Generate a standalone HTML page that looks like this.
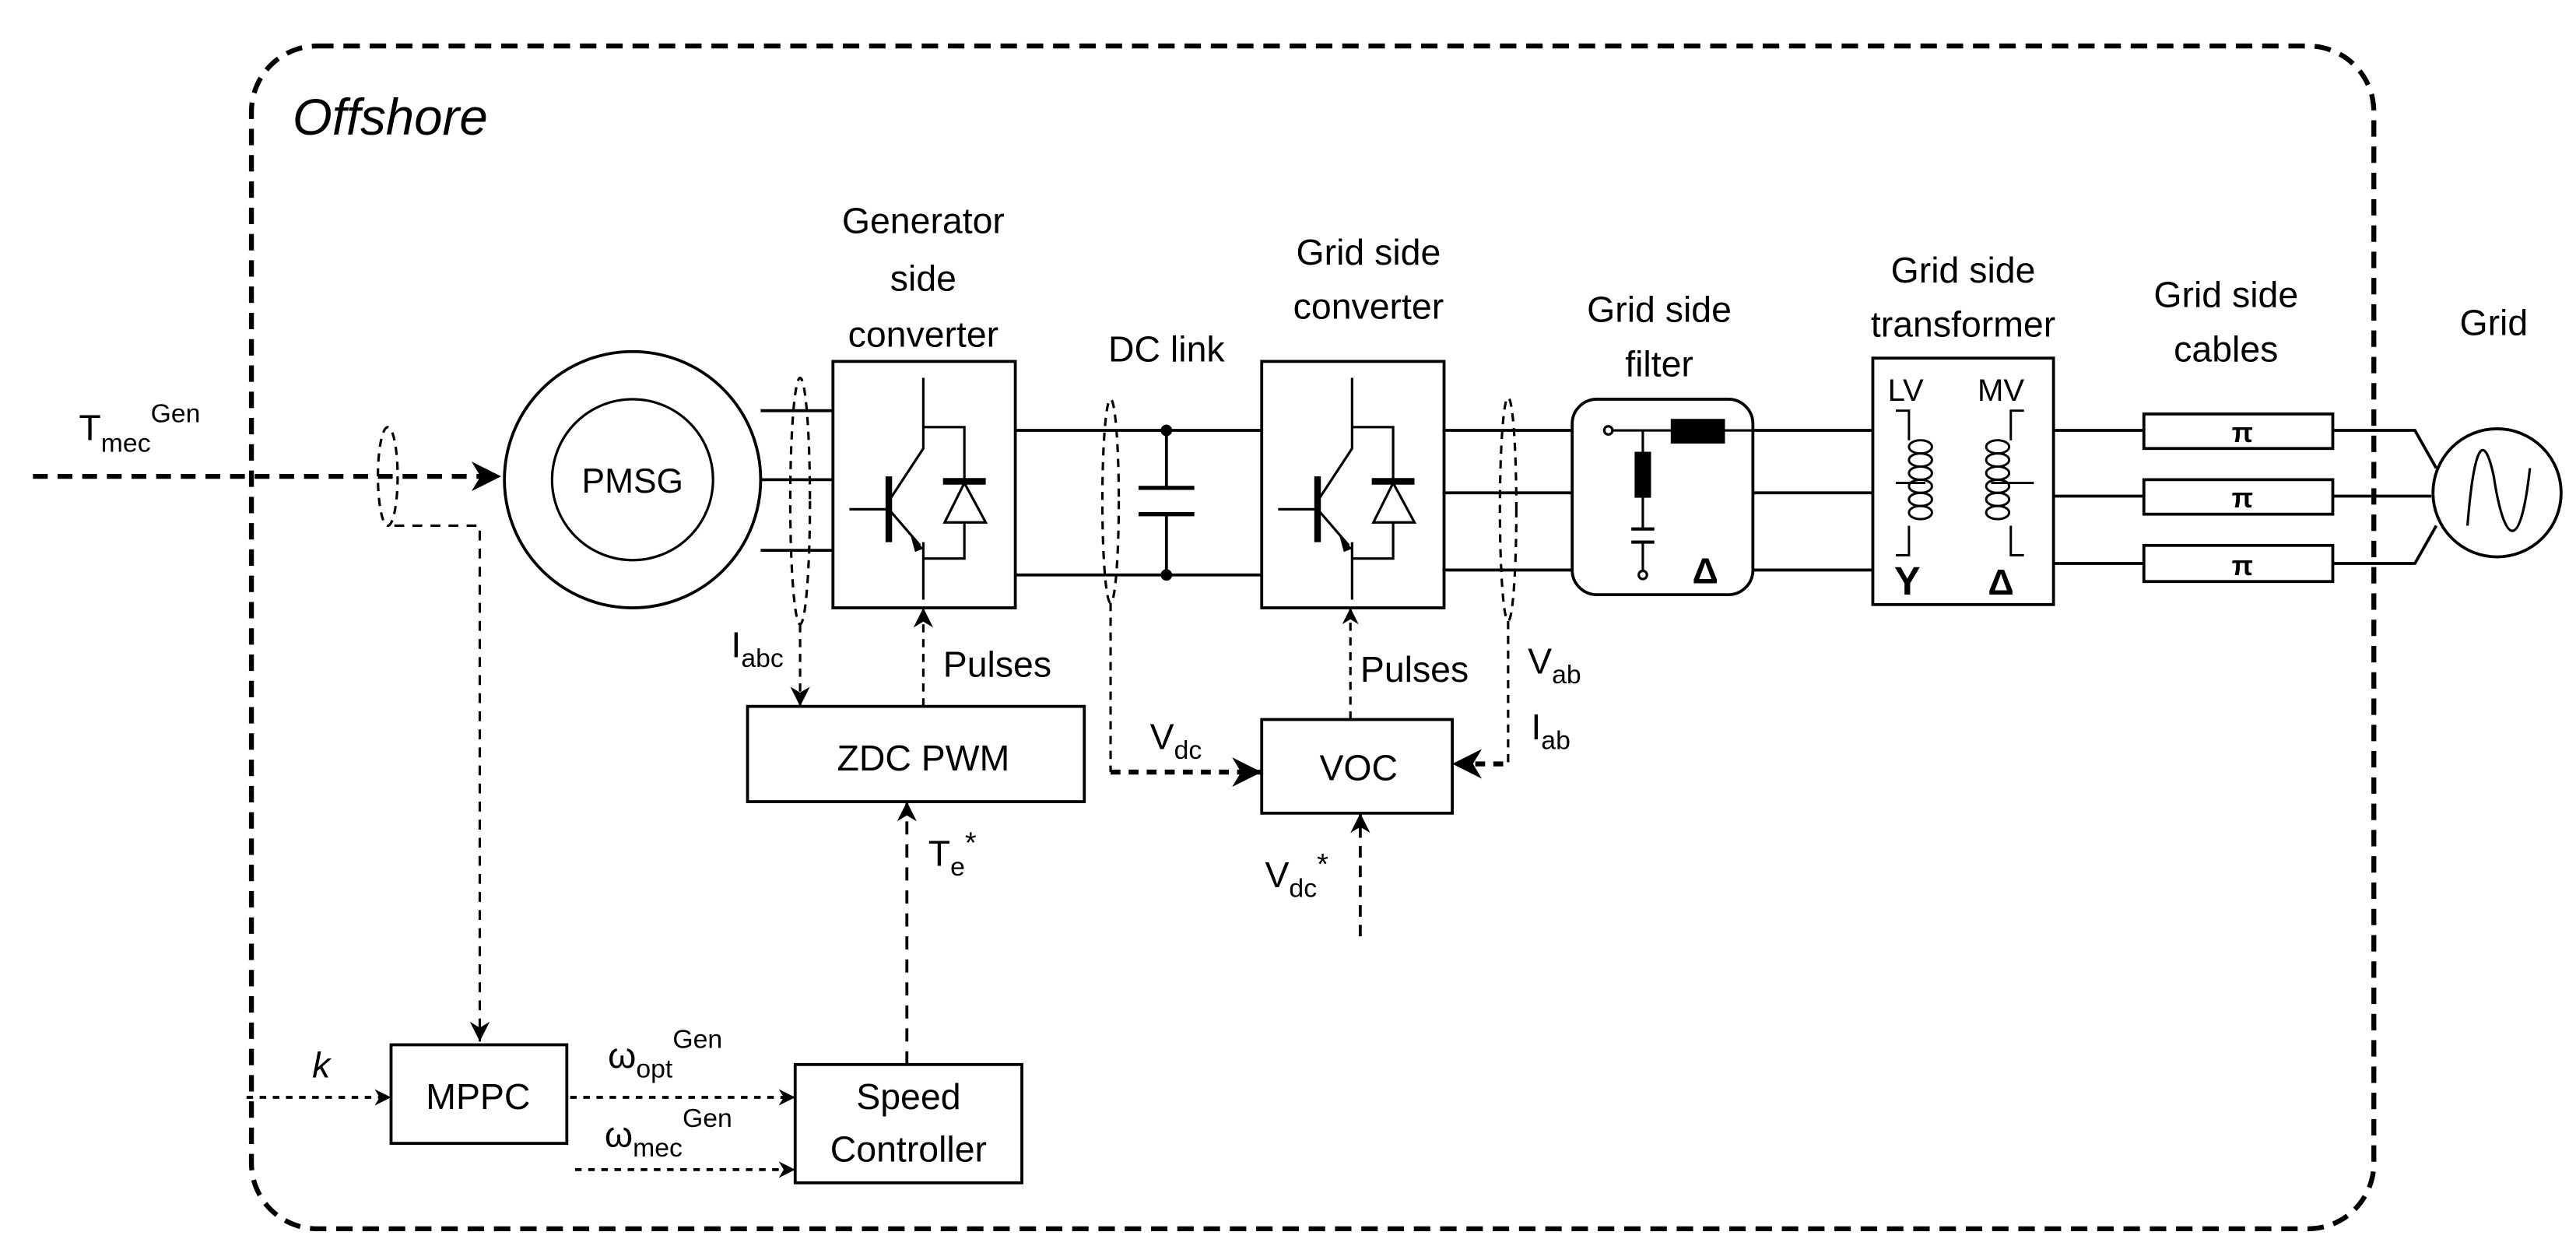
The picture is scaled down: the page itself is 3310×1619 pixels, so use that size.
<!DOCTYPE html>
<html><head><meta charset="utf-8"><style>
html,body{margin:0;padding:0;background:#fff}
svg{display:block}
text{font-family:"Liberation Sans Narrow","Liberation Sans",sans-serif;fill:#000}
</style></head><body>
<svg width="3310" height="1619" viewBox="0 0 1568 767" xmlns="http://www.w3.org/2000/svg">
<defs>
<marker id="a" viewBox="0 0 10 10" refX="10" refY="5" markerWidth="22" markerHeight="18" markerUnits="userSpaceOnUse" orient="auto"><path d="M0,0 L10,5 L0,10 L3,5z" fill="#000"/></marker>
<marker id="b" viewBox="0 0 10 10" refX="10" refY="5" markerWidth="16" markerHeight="12" markerUnits="userSpaceOnUse" orient="auto"><path d="M0,0 L10,5 L0,10 L3,5z" fill="#000"/></marker>
<marker id="c" viewBox="0 0 10 10" refX="10" refY="5" markerWidth="11" markerHeight="10" markerUnits="userSpaceOnUse" orient="auto"><path d="M0,0 L10,5 L0,10 L3,5z" fill="#000"/></marker>
</defs>
<rect width="1568" height="767" fill="#fff"/>
<rect x="153" y="28" width="1292" height="720" rx="40" fill="none" stroke="#000" stroke-width="3" stroke-dasharray="10,6"/>
<text x="178" y="82" font-size="31" font-style="italic" font-family="Liberation Sans">Offshore</text>

<text x="48" y="268" font-size="22">T<tspan font-size="16" dy="7">mec</tspan><tspan font-size="16" dy="-18">Gen</tspan></text>
<line x1="20" y1="290" x2="305" y2="290" stroke="#000" stroke-width="3" stroke-dasharray="9,6" marker-end="url(#a)"/>
<ellipse cx="236" cy="290" rx="6" ry="30" fill="none" stroke="#000" stroke-width="1.5" stroke-dasharray="5,4"/>
<polyline points="240,320 292,320 292,634" fill="none" stroke="#000" stroke-width="1.5" stroke-dasharray="6,5" marker-end="url(#b)"/>

<circle cx="385" cy="292" r="78" fill="none" stroke="#000" stroke-width="1.8"/>
<circle cx="385" cy="292" r="49" fill="none" stroke="#000" stroke-width="1.5"/>
<text x="385" y="300" font-size="21" text-anchor="middle">PMSG</text>
<g stroke="#000" stroke-width="1.8">
<line x1="463" y1="250" x2="507" y2="250"/><line x1="463" y1="292" x2="507" y2="292"/><line x1="463" y1="335" x2="507" y2="335"/>
</g>
<ellipse cx="487" cy="305" rx="6" ry="75" fill="none" stroke="#000" stroke-width="1.5" stroke-dasharray="5,4"/>
<line x1="487" y1="380" x2="487" y2="430" stroke="#000" stroke-width="1.5" stroke-dasharray="5,4" marker-end="url(#b)"/>
<text x="445" y="400" font-size="22">I<tspan font-size="16" dy="6">abc</tspan></text>

<text font-size="22" text-anchor="middle"><tspan x="562" y="142">Generator</tspan><tspan x="562" y="177">side</tspan><tspan x="562" y="211">converter</tspan></text>
<g id="igbt">
<rect x="507" y="220" width="111" height="150" fill="#fff" stroke="#000" stroke-width="1.8"/>
<g stroke="#000" stroke-width="1.5" fill="none">
<polyline points="562,230 562,273 541,305"/>
<line x1="541" y1="310" x2="560" y2="332"/>
<polyline points="562,330 562,365"/>
<line x1="517" y1="310" x2="541" y2="310"/>
<polyline points="562,260 587,260 587,340 562,340"/>
</g>
<line x1="541" y1="290" x2="541" y2="330" stroke="#000" stroke-width="4"/>
<path d="M554,325 L562,334 L557,336z" fill="#000"/>
<line x1="574" y1="293" x2="600" y2="293" stroke="#000" stroke-width="4"/>
<path d="M587,294 L575,318 L600,318z" fill="#fff" stroke="#000" stroke-width="1.5"/>
</g>

<text x="710" y="220" font-size="22" text-anchor="middle">DC link</text>
<g stroke="#000" stroke-width="1.8">
<line x1="618" y1="262" x2="768" y2="262"/><line x1="618" y1="350" x2="768" y2="350"/>
<line x1="710" y1="262" x2="710" y2="297"/><line x1="710" y1="313" x2="710" y2="350"/>
<line x1="693" y1="297" x2="727" y2="297" stroke-width="2.5"/><line x1="693" y1="313" x2="727" y2="313" stroke-width="2.5"/>
</g>
<circle cx="710" cy="262" r="3.5"/><circle cx="710" cy="350" r="3.5"/>
<ellipse cx="676" cy="305" rx="5" ry="62" fill="none" stroke="#000" stroke-width="1.5" stroke-dasharray="5,4"/>
<polyline points="676,367 676,470" fill="none" stroke="#000" stroke-width="1.5" stroke-dasharray="5,4"/>
<line x1="676" y1="470" x2="768" y2="470" stroke="#000" stroke-width="3" stroke-dasharray="6,5" marker-end="url(#a)"/>
<text x="700" y="456" font-size="22">V<tspan font-size="16" dy="6">dc</tspan></text>

<text font-size="22" text-anchor="middle"><tspan x="833" y="161">Grid side</tspan><tspan x="833" y="194">converter</tspan></text>
<use href="#igbt" transform="translate(261,0)"/>

<g stroke="#000" stroke-width="1.8">
<line x1="878" y1="262" x2="957" y2="262"/><line x1="878" y1="300" x2="957" y2="300"/><line x1="878" y1="347" x2="957" y2="347"/>
</g>
<ellipse cx="918" cy="310" rx="5" ry="68" fill="none" stroke="#000" stroke-width="1.5" stroke-dasharray="5,4"/>
<polyline points="918,378 918,465" fill="none" stroke="#000" stroke-width="1.5" stroke-dasharray="5,4"/>
<line x1="915" y1="465" x2="884" y2="465" stroke="#000" stroke-width="3" stroke-dasharray="6,5" marker-end="url(#a)"/>
<text x="930" y="410" font-size="22">V<tspan font-size="16" dy="6">ab</tspan></text>
<text x="932" y="450" font-size="22">I<tspan font-size="16" dy="6">ab</tspan></text>

<text font-size="22" text-anchor="middle"><tspan x="1010" y="196">Grid side</tspan><tspan x="1010" y="229">filter</tspan></text>
<rect x="957" y="243" width="110" height="119" rx="15" fill="#fff" stroke="#000" stroke-width="1.8"/>
<g stroke="#000" stroke-width="1.5" fill="none">
<line x1="981" y1="262" x2="1067" y2="262"/>
<circle cx="979" cy="262" r="2.5" fill="#fff"/>
<line x1="1000" y1="262" x2="1000" y2="322"/>
<line x1="1000" y1="330" x2="1000" y2="348"/>
<circle cx="1000" cy="350" r="2.5" fill="#fff"/>
<line x1="993" y1="322" x2="1007" y2="322" stroke-width="2"/>
<line x1="993" y1="330" x2="1007" y2="330" stroke-width="2"/>
</g>
<rect x="1017" y="255" width="33" height="15" fill="#000"/>
<rect x="995" y="275" width="10" height="28" fill="#000"/>
<text x="1038" y="355" font-size="22" font-weight="bold" font-family="Liberation Serif" text-anchor="middle">Δ</text>
<g stroke="#000" stroke-width="1.8">
<line x1="1067" y1="262" x2="1140" y2="262"/><line x1="1067" y1="300" x2="1140" y2="300"/><line x1="1067" y1="347" x2="1140" y2="347"/>
</g>

<text font-size="22" text-anchor="middle"><tspan x="1195" y="172">Grid side</tspan><tspan x="1195" y="205">transformer</tspan></text>
<rect x="1140" y="218" width="110" height="150" fill="#fff" stroke="#000" stroke-width="1.8"/>
<text x="1160" y="244" font-size="19" font-family="Liberation Serif" text-anchor="middle">LV</text>
<text x="1218" y="244" font-size="19" font-family="Liberation Serif" text-anchor="middle">MV</text>
<g stroke="#000" stroke-width="1.4" fill="none">
<polyline points="1154,250 1162,250 1162,268"/>
<polyline points="1162,320 1162,338 1154,338"/>
<line x1="1154" y1="294" x2="1172" y2="294"/>
<ellipse cx="1169" cy="272" rx="7" ry="4"/><ellipse cx="1169" cy="280" rx="7" ry="4"/><ellipse cx="1169" cy="288" rx="7" ry="4"/><ellipse cx="1169" cy="296" rx="7" ry="4"/><ellipse cx="1169" cy="304" rx="7" ry="4"/><ellipse cx="1169" cy="312" rx="7" ry="4"/>
<polyline points="1232,250 1224,250 1224,268"/>
<polyline points="1224,320 1224,338 1232,338"/>
<line x1="1212" y1="294" x2="1238" y2="294"/>
<ellipse cx="1216" cy="272" rx="7" ry="4"/><ellipse cx="1216" cy="280" rx="7" ry="4"/><ellipse cx="1216" cy="288" rx="7" ry="4"/><ellipse cx="1216" cy="296" rx="7" ry="4"/><ellipse cx="1216" cy="304" rx="7" ry="4"/><ellipse cx="1216" cy="312" rx="7" ry="4"/>
</g>
<text x="1161" y="362" font-size="24" font-weight="bold" font-family="Liberation Serif" text-anchor="middle">Y</text>
<text x="1218" y="362" font-size="22" font-weight="bold" font-family="Liberation Serif" text-anchor="middle">Δ</text>

<text font-size="22" text-anchor="middle"><tspan x="1355" y="187">Grid side</tspan><tspan x="1355" y="220">cables</tspan></text>
<g stroke="#000" stroke-width="1.8" fill="none">
<line x1="1250" y1="262" x2="1305" y2="262"/><line x1="1250" y1="302" x2="1305" y2="302"/><line x1="1250" y1="343" x2="1305" y2="343"/>
<rect x="1305" y="252" width="115" height="21" fill="#fff"/>
<rect x="1305" y="292" width="115" height="21" fill="#fff"/>
<rect x="1305" y="332" width="115" height="22" fill="#fff"/>
<polyline points="1420,262 1470,262 1483,285"/>
<line x1="1420" y1="302" x2="1480" y2="302"/>
<polyline points="1420,343 1470,343 1483,320"/>
</g>
<g font-size="17" font-weight="bold" font-family="Liberation Serif" text-anchor="middle">
<text x="1365" y="269">π</text><text x="1365" y="309">π</text><text x="1365" y="350">π</text>
</g>
<circle cx="1520" cy="300" r="39" fill="#fff" stroke="#000" stroke-width="1.8"/>
<path d="M1502,320 C1506,270 1512,262 1518,290 C1524,330 1534,340 1540,285" fill="none" stroke="#000" stroke-width="1.5"/>
<text x="1518" y="204" font-size="22" text-anchor="middle">Grid</text>

<rect x="455" y="430" width="205" height="58" fill="#fff" stroke="#000" stroke-width="1.8"/>
<text x="562" y="469" font-size="22" text-anchor="middle">ZDC PWM</text>
<line x1="562" y1="430" x2="562" y2="370" stroke="#000" stroke-width="1.5" stroke-dasharray="5,4" marker-end="url(#b)"/>
<text x="574" y="412" font-size="22">Pulses</text>

<rect x="768" y="438" width="116" height="57" fill="#fff" stroke="#000" stroke-width="1.8"/>
<text x="827" y="475" font-size="22" text-anchor="middle">VOC</text>
<line x1="822" y1="438" x2="822" y2="370" stroke="#000" stroke-width="1.5" stroke-dasharray="5,4" marker-end="url(#c)"/>
<text x="828" y="415" font-size="22">Pulses</text>
<line x1="828" y1="570" x2="828" y2="495" stroke="#000" stroke-width="1.8" stroke-dasharray="7,5" marker-end="url(#b)"/>
<text x="770" y="540" font-size="22">V<tspan font-size="16" dy="6">dc</tspan><tspan dy="-14" font-size="18">*</tspan></text>

<line x1="552" y1="648" x2="552" y2="488" stroke="#000" stroke-width="1.8" stroke-dasharray="8,6" marker-end="url(#b)"/>
<text x="565" y="527" font-size="22">T<tspan font-size="16" dy="6">e</tspan><tspan dy="-14" font-size="18">*</tspan></text>

<rect x="238" y="636" width="107" height="60" fill="#fff" stroke="#000" stroke-width="1.8"/>
<text x="291" y="675" font-size="22" text-anchor="middle">MPPC</text>
<line x1="150" y1="668" x2="238" y2="668" stroke="#000" stroke-width="1.8" stroke-dasharray="4,4" marker-end="url(#c)"/>
<text x="190" y="656" font-size="22" font-style="italic">k</text>

<rect x="484" y="648" width="138" height="72" fill="#fff" stroke="#000" stroke-width="1.8"/>
<text font-size="22" text-anchor="middle"><tspan x="553" y="675">Speed</tspan><tspan x="553" y="707">Controller</tspan></text>
<line x1="347" y1="668" x2="484" y2="668" stroke="#000" stroke-width="1.8" stroke-dasharray="4,4" marker-end="url(#c)"/>
<line x1="350" y1="712" x2="484" y2="712" stroke="#000" stroke-width="1.8" stroke-dasharray="4,4" marker-end="url(#c)"/>
<text x="370" y="650" font-size="22">ω<tspan font-size="16" dy="6">opt</tspan><tspan font-size="16" dy="-18">Gen</tspan></text>
<text x="368" y="698" font-size="22">ω<tspan font-size="16" dy="6">mec</tspan><tspan font-size="16" dy="-18">Gen</tspan></text>
</svg>
</body></html>
